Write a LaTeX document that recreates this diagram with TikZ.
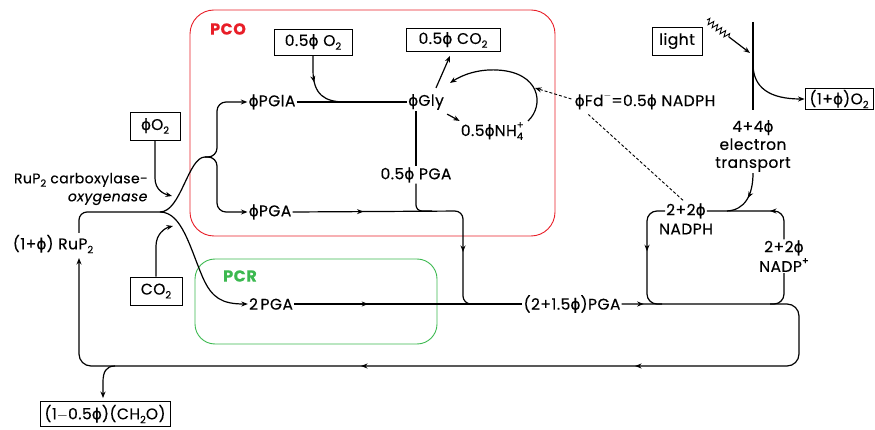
\documentclass[tikz,border=0pt]{standalone}
\usepackage{fontspec}
\setmainfont{Poppins}[FakeBold=0.3,LetterSpace=3]
\newfontfamily\phf{DejaVu Sans}[FakeBold=0.6]
\usetikzlibrary{arrows.meta,decorations.markings,decorations.pathmorphing,calc}
\newcommand{\ph}{{\phf ϕ}}
\newcommand{\dn}[1]{\raisebox{-0.45ex}{\fontsize{10}{10}\selectfont #1}}
\newcommand{\upx}[1]{\raisebox{0.9ex}{\fontsize{10}{10}\selectfont #1}}
\newcommand{\mfs}{\fontsize{15.5}{18}\selectfont}
\newcommand{\sfs}{\fontsize{14}{18}\selectfont}
\definecolor{pcored}{RGB}{232,30,40}
\definecolor{pcrgreen}{RGB}{60,185,80}
\begin{document}
\begin{tikzpicture}[x=1pt,y=-1pt,
  lbl/.style={font=\mfs, inner sep=1pt},
  bx/.style={draw, line width=0.9pt, font=\mfs, inner sep=0pt},
  ln/.style={line width=1.2pt},
  tip/.style={-{Stealth[length=6.5pt,width=5pt]}},
  midarr/.style={postaction={decorate, decoration={markings, mark=at position #1 with {\arrow{Stealth[length=6.5pt,width=5pt]}}}}},
  region/.style={line width=0.9pt},
  rlabel/.style={font=\fontsize{16}{18}\selectfont\bfseries, inner sep=0pt},
]
\useasboundingbox (0,0) rectangle (875,430);

% regions
\draw[region, pcored, rounded corners=24] (190,10) rectangle (555,236);
\node[rlabel, text=pcored] (pcolbl) at (228,29) {PCO};
\draw[region, pcrgreen, rounded corners=20] (195,259) rectangle (437,344);
\node[rlabel, text=pcrgreen] (pcrlbl) at (240,276) {PCR};

% boxes
\node[bx, minimum width=50pt, minimum height=28pt] (o2) at (155,126) {\ph O\dn{2}};
\node[bx, minimum width=52pt, minimum height=28pt] (co2) at (156,291) {CO\dn{2}};
\node[bx, minimum width=78pt, minimum height=26pt] (o205) at (313,42) {0.5\ph\ O\dn{2}};
\node[bx, minimum width=94pt, minimum height=23pt] (co205) at (453,40) {0.5\ph\ CO\dn{2}};
\node[bx, minimum width=50pt, minimum height=28pt] (light) at (677,41) {light};
\node[bx, minimum width=68pt, minimum height=21pt] (o2out) at (839,99) {(1+\ph)O\dn{2}};
\node[bx, minimum width=130pt, minimum height=25pt] (ch2o) at (105,414) {(1$-$0.5\ph)(CH\dn{2}O)};

% labels
\node[lbl, font=\sfs, align=right, anchor=east] (rub) at (149,189) {RuP\dn{2} carboxylase-\\\textit{oxygenase}};
\node[lbl] (rup) at (53,244) {(1+\ph) RuP\dn{2}};
\node[lbl] (pgla) at (272,102) {\ph PGlA};
\node[lbl] (gly) at (426,102) {\ph Gly};
\node[lbl] (nh4) at (492,131) {0.5\ph NH\rlap{\upx{+}}\dn{4}};
\node[lbl] (pga05) at (416,175) {0.5\ph\ PGA};
\node[lbl] (pga1) at (270,212) {\ph PGA};
\node[lbl] (pga2) at (271,304) {2\,PGA};
\node[lbl] (pgam) at (572,304) {(2+1.5\ph)PGA};
\node[lbl] (fd) at (645,101) {\ph Fd\upx{$-$}=0.5\ph\ NADPH};
\node[lbl, align=center] (et) at (753,146) {4+4\ph\\electron\\transport};
\node[lbl] (nadphA) at (686,211) {2+2\ph};
\node[lbl] (nadphB) at (686,229) {NADPH};
\node[lbl] (nadpA) at (784,248) {2+2\ph};
\node[lbl] (nadpB) at (784,265) {NADP\upx{+}};

% coordinates
\coordinate (J) at (160,212);
\coordinate (Br) at (205,157);
\coordinate (rupT) at (79,233);
\coordinate (rupB) at (79,258);
\coordinate (o2end) at (172,196);
\coordinate (co2end) at (173,226);
\coordinate (cj) at (115,366);
\coordinate (lpR) at (535,88);
\coordinate (lpS) at (528,121);
\coordinate (lpE) at (450,83);
\coordinate (z0) at (707,20);
\coordinate (z1) at (729,37);
\coordinate (z2) at (750,53);
\coordinate (etT) at (753,22);
\coordinate (etB) at (753,110);
\coordinate (etM) at (753,64);
\coordinate (etJ) at (727,211);

% left part
\draw[ln, rounded corners=8] (rupT) |- (J);
\draw[ln] (J) .. controls (181,212) and (188,157) .. (Br);
\draw[ln, tip, rounded corners=9] (Br) -| (217,102) -- (pgla.west);
\draw[ln, tip, rounded corners=9] (Br) -| (217,212) -- (pga1.west);
\draw[ln, tip] (J) .. controls (182,212) and (190,248) .. (203,278) .. controls (212,298) and (222,304) .. (pga2.west);
\draw[ln, tip] (o2.south) -- (155,178) .. controls (155,190) and (164,194) .. (o2end);
\draw[ln, tip] (co2.north) -- (156,246) .. controls (156,234) and (165,228) .. (co2end);

% PCO internals
\draw[ln] (pgla.east) -- (gly.west);
\draw[ln, midarr=27pt] (o205.south) -- (313,70) .. controls (313,95) and (325,102) .. (345,102);
\draw[ln, tip] ($(gly.north)+(10,-5)$) -- ($(co205.south)+(-3,4)$);
\draw[ln, tip] ($(gly.south east)+(2,3)$) -- (nh4.north west);
\draw[ln, tip] (lpS) .. controls (545,105) and (540,72) .. (497,70) .. controls (478,69) and (462,75) .. (lpE);
\draw[ln] (pga05.north |- gly.south) -- (pga05.north);
\draw[ln, rounded corners=6] (pga05.south) |- (432,211);
\draw[ln, rounded corners=8, midarr=71pt, midarr=208pt] (pga1.east) -- (463,211) -- (463,304) -- (480,304);

% dashed
\draw[line width=0.9pt, dash pattern=on 3pt off 2pt, tip] ($(fd.west)+(-2,-2)$) -- (lpR);
\draw[line width=0.9pt, dash pattern=on 3pt off 2pt] ($(nadphA.north)+(-3,-2)$) -- ($(fd.south west)+(15,4)$);

% main PGA line and loop
\draw[ln, midarr=74pt] (pga2.east) -- (pgam.west);
\draw[ln, rounded corners=12, midarr=22pt, midarr=393pt, midarr=667pt, tip] (pgam.east) -- (799,304) -- (799,366) -- (79,366) -- (rupB);
\draw[ln, tip] (cj) .. controls (106,366) and (103,372) .. (103,382) -- ($(ch2o.north)+(-2,-3)$);

% light reactions
\draw[line width=0.9pt, decorate, decoration={zigzag, segment length=5pt, amplitude=3pt}] (z0) -- (z1);
\draw[ln, tip] (z1) -- (z2);
\draw[ln] (etT) -- (etB);
\draw[ln, tip] (etM) .. controls (753,88) and (770,99) .. (o2out.west);
\draw[ln, midarr=0.5] (et.south) .. controls (753,195) and (745,210) .. (etJ);

% NADPH loop
\draw[ln, rounded corners=10, midarr=38pt] (nadpA.north) |- (nadphA.east);
\draw[ln, rounded corners=10, midarr=54pt] (nadphA.west) -| (647,304) -- (662,304);
\draw[ln, rounded corners=10] (nadpB.south) |- (770,304);
\end{tikzpicture}
\end{document}
